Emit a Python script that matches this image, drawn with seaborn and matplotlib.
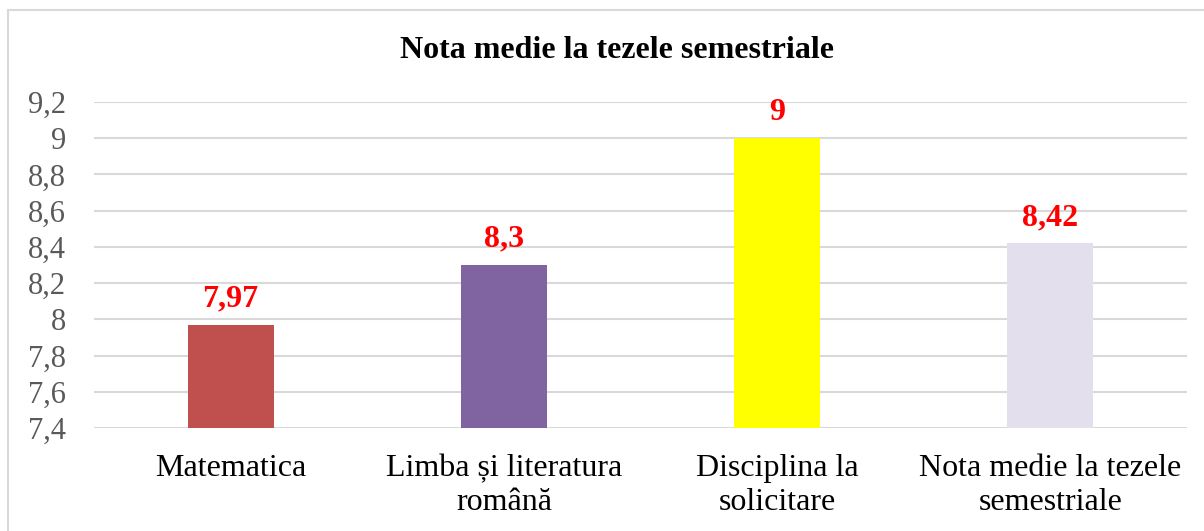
import matplotlib
matplotlib.use("Agg")
import matplotlib.pyplot as plt
import seaborn as sns
import pandas as pd
from matplotlib.patches import Rectangle

# Date
categorii = ["Matematica", "Limba și literatura\nromână", "Disciplina la\nsolicitare",
             "Nota medie la tezele\nsemestriale"]
note = [7.97, 8.3, 9.0, 8.42]
etichete = ["7,97", "8,3", "9", "8,42"]
culori = ["#C0504D", "#8064A2", "#FFFF00", "#E4DFEC"]
ticks_y = [7.4, 7.6, 7.8, 8.0, 8.2, 8.4, 8.6, 8.8, 9.0, 9.2]
ticks_y_txt = ["7,4", "7,6", "7,8", "8", "8,2", "8,4", "8,6", "8,8", "9", "9,2"]

df = pd.DataFrame({"categorie": categorii, "nota": note})

sns.set_style("white")
plt.rcParams["font.family"] = ["Liberation Serif", "DejaVu Serif"]

fig = plt.figure(figsize=(12.04, 5.31), dpi=100)
ax = fig.add_axes([94 / 1204, 1 - 428 / 531, (1187 - 94) / 1204, (428 - 102) / 531])

sns.barplot(data=df, x="categorie", y="nota", hue="categorie", palette=culori,
            width=0.315, legend=False, ax=ax, saturation=1, linewidth=0, zorder=3)

ax.set_ylim(7.4, 9.2)
ax.set_xlim(-0.5, 3.5)
ax.set_yticks(ticks_y)
ax.set_yticklabels(ticks_y_txt, fontsize=22, color="#595959")
ax.tick_params(axis="x", labelsize=23, colors="black", length=0, pad=19)
ax.tick_params(axis="y", length=0, pad=20)
for t in ax.get_xticklabels():
    t.set_linespacing(1.22)
ax.grid(axis="y", color="#D9D9D9", linewidth=1.5, zorder=0)
for s in ax.spines.values():
    s.set_visible(False)
ax.set_xlabel("")
ax.set_ylabel("")

# Etichete valori
for p, txt in zip(ax.patches, etichete):
    ax.annotate(txt, (p.get_x() + p.get_width() / 2, p.get_height()),
                xytext=(0, 8), textcoords="offset points",
                ha="center", va="bottom", fontsize=23, fontweight="bold", color="#FF0000")

fig.text(617 / 1204, 1 - 50 / 531, "Nota medie la tezele semestriale",
         ha="center", va="center", fontsize=23, fontweight="bold", color="black")

# Chenar
fig.patches.append(Rectangle((8 / 1204, -0.05), 1.1, 1 - 10 / 531 + 0.05, transform=fig.transFigure,
                             fill=False, edgecolor="#D9D9D9", linewidth=1.5))

fig.savefig("out.png", dpi=100)
